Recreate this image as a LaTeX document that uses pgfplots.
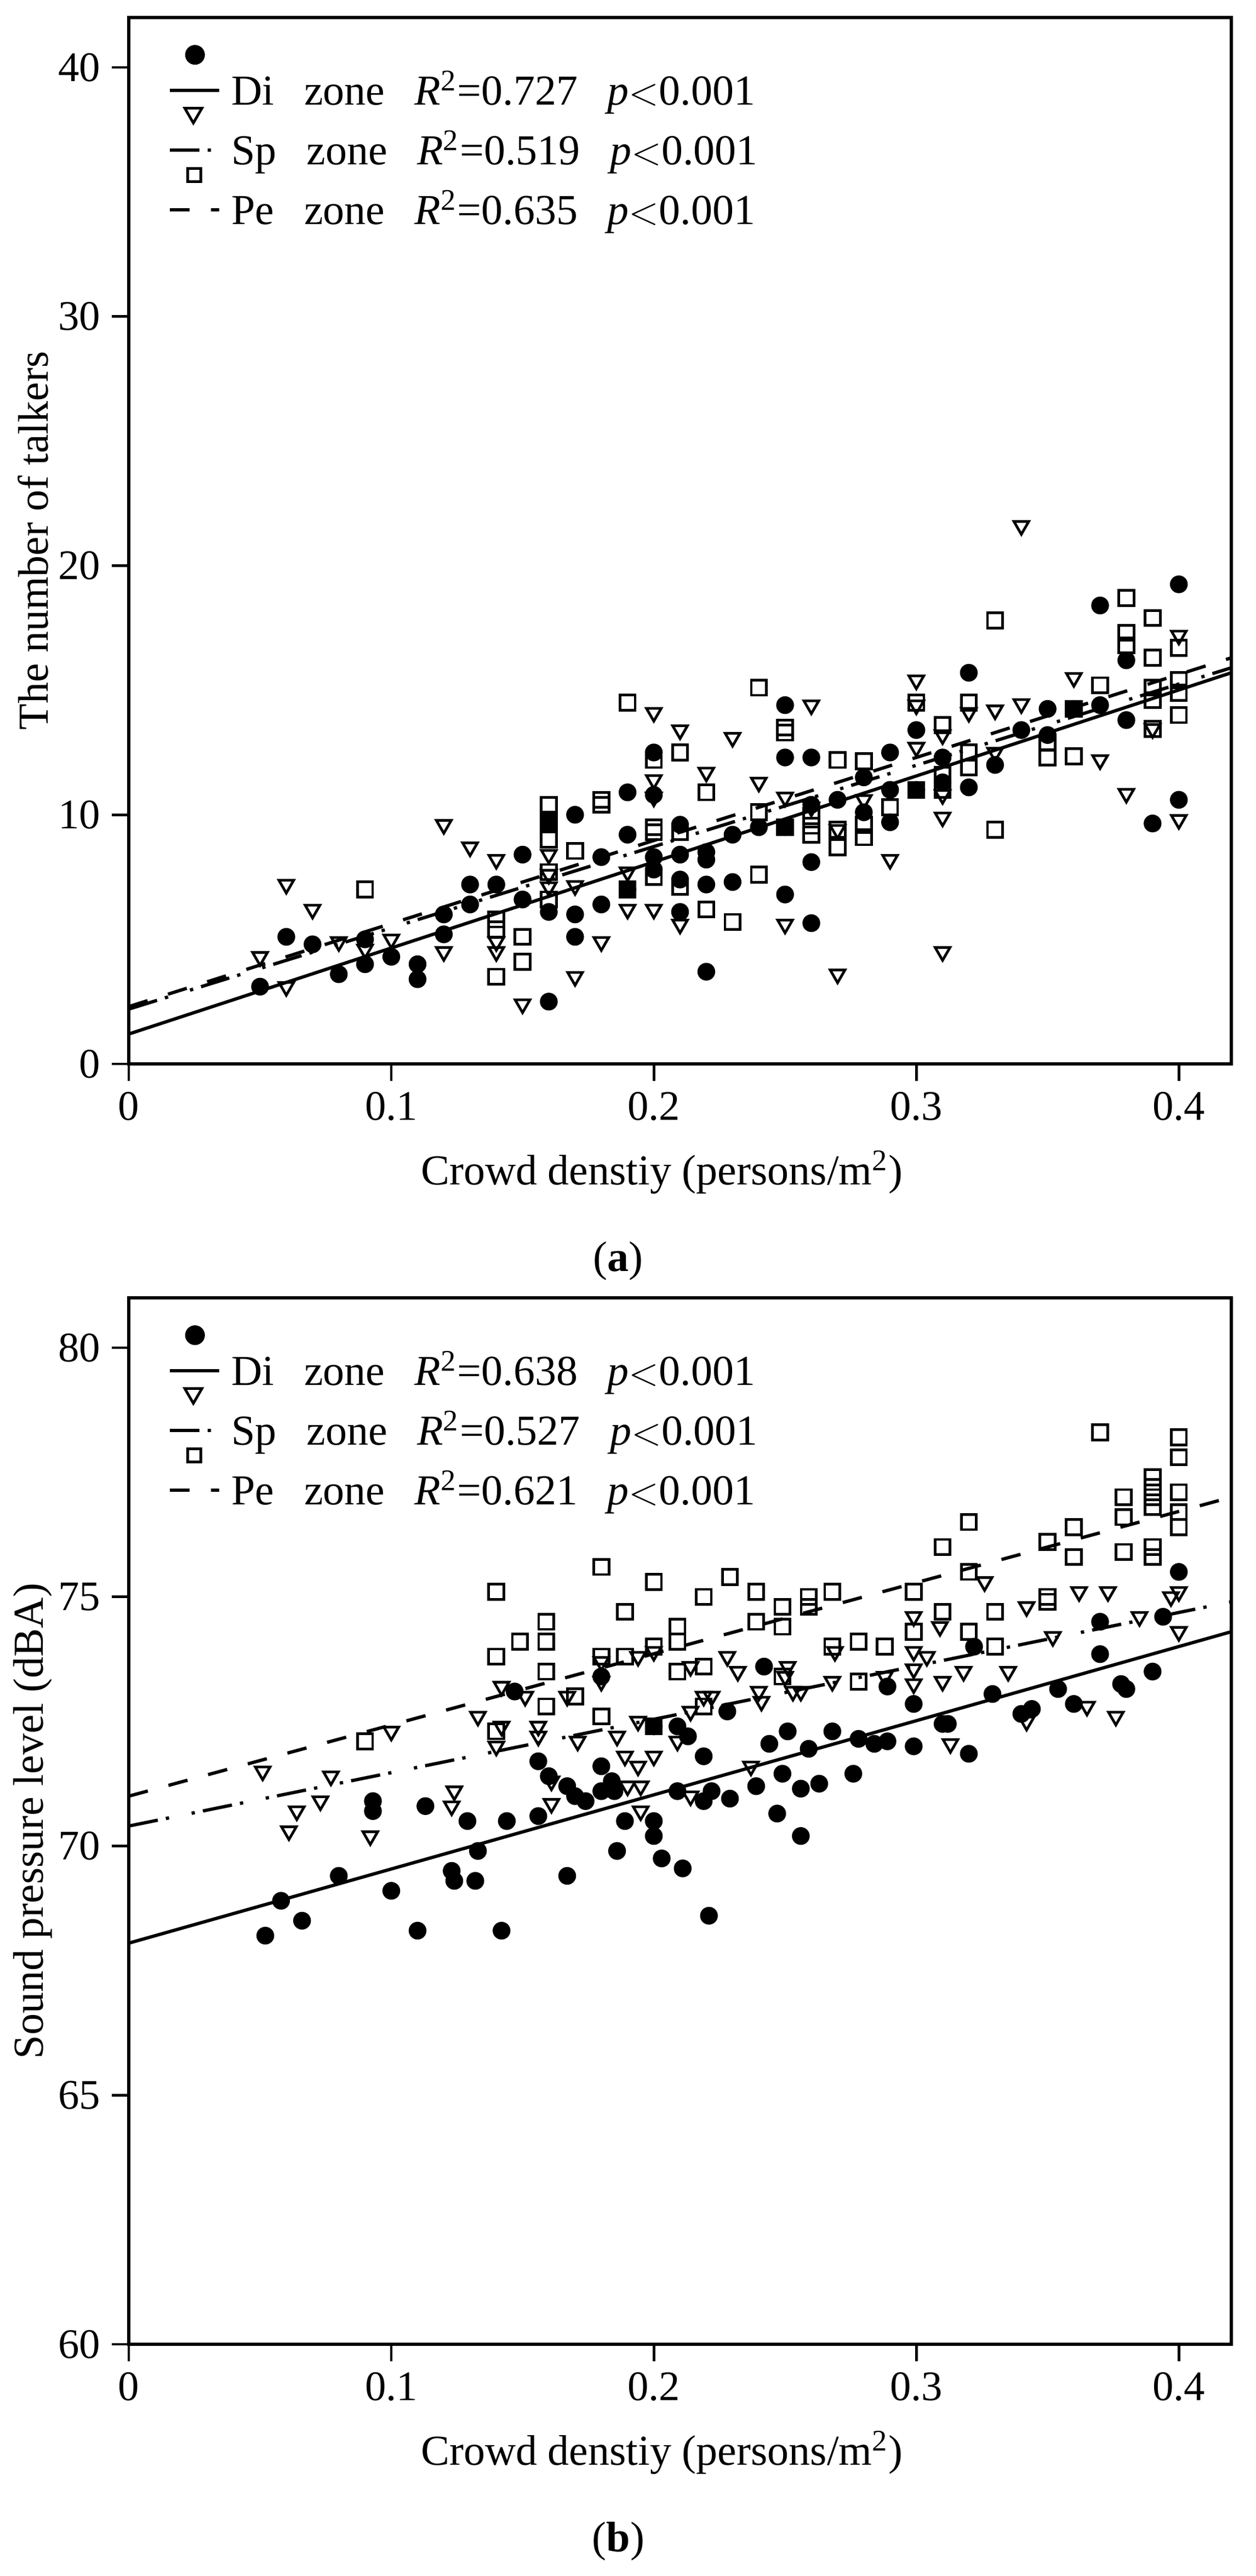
\documentclass[border=0pt]{standalone}
\usepackage{fontspec}
\setmainfont{Liberation Serif}
\usepackage{pgfplots}
\pgfplotsset{compat=1.18}

\pgfplotsset{
  myaxis/.style={
    scale only axis, width=335.33pt, height=318.33pt,
    xmin=0, xmax=0.42,
    axis line style={line width=0.9pt},
    every tick/.style={line width=0.8pt, black},
    major tick length=5.1pt,
    tick align=outside, xtick pos=left, ytick pos=left,
    xtick={0,0.1,0.2,0.3,0.4},
    /pgf/number format/assume math mode=true,
    /pgf/number format/fixed,
    tick label style={font=\fontsize{12.8}{14}\selectfont},
    label style={font=\fontsize{13}{15}\selectfont},
    xlabel={Crowd denstiy (persons/m\textsuperscript{2})},
    xlabel style={at={(axis description cs:0.4836,-0.1037)}, anchor=center},
    ylabel style={at={(axis description cs:-0.087,0.5)}, anchor=center},
    legend style={draw=none, fill=none, at={(axis description cs:0.035,0.975)}, anchor=north west,
      font=\fontsize{13}{15}\selectfont, inner sep=0pt, row sep=-1.8pt,
      nodes={inner sep=0pt},
      /tikz/every odd column/.append style={column sep=3.3pt}},
    legend cell align=left,
  },
  dimark/.style={only marks, mark=*, mark size=2.5pt, black, forget plot},
  spmark/.style={only marks, mark=triangle, mark size=2.6pt, black, mark options={rotate=180, line width=0.8pt, fill=white}, forget plot},
  pemark/.style={only marks, mark=square, mark size=2.3pt, black, mark options={line width=0.8pt, fill=white}, forget plot},
  diline/.style={black, line width=1pt, forget plot},
  spline/.style={black, line width=1pt, dash pattern=on 9pt off 2.5pt on 1pt off 7pt on 1pt off 2.5pt, forget plot},
  peline/.style={black, line width=1pt, dash pattern=on 6pt off 6.5pt, forget plot},
  dileg/.style={legend image code/.code={
      \path[draw=none, fill=none] (0pt,-3pt) rectangle (15pt,14pt);
      \draw[line width=1pt, solid] (0pt,0pt) -- (15pt,0pt);
      \fill (7.7pt,10.8pt) circle (2.8pt);}},
  spleg/.style={legend image code/.code={
      \path[draw=none, fill=none] (0pt,-3pt) rectangle (15pt,14pt);
      \draw[line width=1pt, solid] (0pt,0pt) -- (9pt,0pt);
      \draw[line width=1pt, solid] (11.5pt,0pt) -- (12.6pt,0pt);
      \draw[line width=0.8pt, solid] (7.2pt,8.2pt) -- (9.8pt,12.7pt) -- (4.6pt,12.7pt) -- cycle;}},
  peleg/.style={legend image code/.code={
      \path[draw=none, fill=none] (0pt,-3pt) rectangle (15pt,14pt);
      \draw[line width=1pt, solid] (0pt,0pt) -- (6pt,0pt);
      \draw[line width=1pt, solid] (12.5pt,0pt) -- (15pt,0pt);
      \draw[line width=0.8pt, solid] (5.5pt,8.5pt) rectangle (9.5pt,12.5pt);}},
}

\newcommand{\gap}{\hspace{0.7em}}
\newcommand{\lt}{\ensuremath{<}}

\begin{document}
\begin{tikzpicture}
\useasboundingbox (0pt,0pt) rectangle (382pt,-783.67pt);

% ---------------- (a) ----------------
\begin{axis}[myaxis,
  at={(39.17pt,-5.33pt)}, anchor=north west,
  ymin=0, ymax=42, ytick={0,10,20,30,40},
  ylabel={The number of talkers},
  after end axis/.code={\node[font=\fontsize{13}{15}\selectfont] at (axis description cs:0.444,-0.1885) {(\textbf{a})};},
]
\addlegendimage{dileg}
\addlegendentry{Di\gap zone\gap\textit{R}\textsuperscript{2}=0.727\gap\textit{p}\lt0.001}
\addlegendimage{spleg}
\addlegendentry{Sp\gap zone\gap\textit{R}\textsuperscript{2}=0.519\gap\textit{p}\lt0.001}
\addlegendimage{peleg}
\addlegendentry{Pe\gap zone\gap\textit{R}\textsuperscript{2}=0.635\gap\textit{p}\lt0.001}

\addplot[diline] coordinates {(0,1.2) (0.42,15.7)};
\addplot[spline] coordinates {(0,2.2) (0.42,15.9)};
\addplot[peline] coordinates {(0,2.3) (0.42,16.3)};

% Pe zone
\addplot[pemark] coordinates {
(0.09,7.0)(0.14,5.8)(0.14,5.4)(0.14,3.5)(0.15,5.1)(0.15,4.1)
(0.16,10.4)(0.16,9.7)(0.16,9.0)(0.16,7.7)(0.16,6.6)(0.17,8.55)
(0.18,10.6)(0.18,10.4)(0.19,14.5)(0.19,7.0)(0.20,12.2)(0.20,9.5)(0.20,9.3)(0.20,7.5)
(0.21,12.5)(0.21,9.3)(0.21,7.1)(0.22,10.9)(0.22,6.2)(0.23,5.7)
(0.24,15.1)(0.24,10.1)(0.24,7.6)(0.25,13.5)(0.25,13.3)(0.25,9.5)
(0.26,9.95)(0.26,9.56)(0.26,9.2)(0.27,12.2)(0.27,9.4)(0.27,8.7)
(0.28,12.15)(0.28,9.6)(0.28,9.1)(0.29,10.3)(0.30,14.5)(0.30,11.0)
(0.31,13.6)(0.31,11.6)(0.31,11.0)(0.32,14.5)(0.32,12.5)(0.32,11.9)
(0.33,17.8)(0.33,9.4)(0.35,12.9)(0.35,12.3)(0.36,14.25)(0.36,12.35)(0.37,15.2)
(0.38,18.7)(0.38,17.3)(0.38,16.8)(0.39,17.9)(0.39,16.3)(0.39,15.1)(0.39,14.6)(0.39,13.45)
(0.40,16.7)(0.40,15.4)(0.40,14.9)(0.40,14.0)
};
% Sp zone
\addplot[spmark] coordinates {
(0.05,4.3)(0.06,7.2)(0.06,3.1)(0.07,6.2)(0.08,4.9)(0.09,4.6)(0.10,5.0)
(0.12,9.6)(0.12,4.5)(0.13,8.7)(0.14,8.2)(0.14,4.9)(0.14,4.5)(0.15,2.4)
(0.16,8.4)(0.16,7.6)(0.16,7.1)(0.17,7.15)(0.17,3.5)(0.18,4.9)(0.19,7.7)(0.19,6.2)
(0.20,14.1)(0.20,11.4)(0.20,10.7)(0.20,6.2)(0.21,13.4)(0.21,5.6)(0.22,11.7)(0.23,13.1)
(0.24,11.3)(0.25,10.7)(0.25,5.6)(0.26,14.4)(0.26,10.3)(0.27,9.4)(0.27,3.6)(0.28,10.6)(0.29,8.2)
(0.30,15.4)(0.30,14.4)(0.30,12.7)(0.31,13.2)(0.31,10.8)(0.31,9.9)(0.31,4.5)(0.32,14.1)
(0.33,14.2)(0.33,12.5)(0.34,21.6)(0.34,14.45)(0.36,15.5)(0.37,12.2)(0.38,10.85)(0.39,13.45)
(0.40,17.2)(0.40,9.8)
};
% Di zone
\addplot[dimark] coordinates {
(0.05,3.1)(0.06,5.1)(0.07,4.8)(0.08,3.6)(0.09,5.0)(0.09,4.0)(0.10,4.3)(0.11,4.0)(0.11,3.4)
(0.12,6.0)(0.12,5.2)(0.13,7.2)(0.13,6.4)(0.14,7.2)(0.15,8.4)(0.15,6.6)
(0.16,9.7)(0.16,6.1)(0.16,2.5)(0.17,10.0)(0.17,6.0)(0.17,5.1)(0.18,8.3)(0.18,6.4)
(0.19,10.9)(0.19,9.2)(0.19,7.0)(0.20,12.5)(0.20,10.8)(0.20,8.3)(0.20,7.8)
(0.21,9.6)(0.21,8.4)(0.21,7.4)(0.21,6.1)(0.22,8.5)(0.22,8.2)(0.22,7.2)(0.22,3.7)
(0.23,9.2)(0.23,7.3)(0.24,9.5)(0.25,14.4)(0.25,12.3)(0.25,9.5)(0.25,6.8)
(0.26,12.3)(0.26,10.4)(0.26,8.1)(0.26,5.65)(0.27,10.6)(0.28,11.5)(0.28,10.1)
(0.29,12.5)(0.29,11.0)(0.29,9.7)(0.30,13.4)(0.30,11.0)(0.31,12.3)(0.31,11.3)
(0.32,15.7)(0.32,11.1)(0.33,12.0)(0.34,13.4)(0.35,14.25)(0.35,13.2)(0.36,14.25)
(0.37,18.4)(0.37,14.4)(0.38,16.2)(0.38,13.8)(0.39,9.65)(0.40,19.25)(0.40,10.6)
};
\end{axis}

% ---------------- (b) ----------------
\begin{axis}[myaxis,
  at={(39.17pt,-394.83pt)}, anchor=north west,
  ymin=60, ymax=81, ytick={60,65,70,75,80},
  ylabel={Sound pressure level (dBA)},
  after end axis/.code={\node[font=\fontsize{13}{15}\selectfont] at (axis description cs:0.444,-0.1885) {(\textbf{b})};},
]
\addlegendimage{dileg}
\addlegendentry{Di\gap zone\gap\textit{R}\textsuperscript{2}=0.638\gap\textit{p}\lt0.001}
\addlegendimage{spleg}
\addlegendentry{Sp\gap zone\gap\textit{R}\textsuperscript{2}=0.527\gap\textit{p}\lt0.001}
\addlegendimage{peleg}
\addlegendentry{Pe\gap zone\gap\textit{R}\textsuperscript{2}=0.621\gap\textit{p}\lt0.001}

\addplot[diline] coordinates {(0,68.05) (0.42,74.3)};
\addplot[spline] coordinates {(0,70.4) (0.42,74.9)};
\addplot[peline] coordinates {(0,71.0) (0.42,77.0)};

% Pe zone
\addplot[pemark] coordinates {
(0.090,72.1)(0.140,75.1)(0.140,73.8)(0.140,72.3)(0.149,74.1)
(0.159,74.5)(0.159,74.1)(0.159,73.5)(0.159,72.8)
(0.180,75.6)(0.180,73.8)(0.180,72.6)(0.170,73.0)(0.189,74.7)(0.189,73.8)
(0.200,75.3)(0.200,74.0)(0.200,72.4)(0.209,74.4)(0.209,74.1)(0.209,73.5)
(0.219,75.0)(0.219,73.6)(0.219,72.8)(0.229,75.4)(0.239,75.1)(0.239,74.5)
(0.249,74.8)(0.249,74.4)(0.249,73.4)(0.259,75.0)(0.259,74.8)(0.268,75.1)(0.268,74.0)
(0.278,74.1)(0.278,73.3)(0.288,74.0)
(0.299,75.1)(0.299,74.3)(0.310,76.0)(0.310,74.7)(0.320,76.5)(0.320,75.5)(0.320,74.3)
(0.330,74.7)(0.330,74.0)(0.350,76.1)(0.350,75.0)(0.350,74.9)(0.360,76.4)(0.360,75.8)
(0.370,78.3)(0.379,77.0)(0.379,76.6)(0.379,75.9)
(0.390,77.4)(0.390,77.2)(0.390,77.0)(0.390,76.8)(0.390,76.0)(0.390,75.8)
(0.400,78.2)(0.400,77.8)(0.400,77.1)(0.400,76.7)(0.400,76.4)
};
% Sp zone
\addplot[spmark] coordinates {
(0.051,71.5)(0.061,70.3)(0.064,70.7)(0.073,70.9)(0.077,71.4)(0.092,70.2)(0.100,72.3)
(0.123,70.8)(0.124,71.1)(0.133,72.6)(0.140,72.0)(0.142,72.4)(0.142,73.2)(0.151,73.0)
(0.156,72.4)(0.156,72.2)(0.161,71.3)(0.161,70.85)
(0.167,73.0)(0.171,72.1)(0.180,73.7)(0.180,73.3)(0.186,72.2)(0.189,71.8)(0.190,71.2)
(0.194,73.8)(0.194,71.6)(0.195,71.2)(0.195,70.7)(0.200,71.8)(0.194,72.5)(0.200,73.9)
(0.209,72.1)(0.214,73.6)(0.214,72.7)(0.214,71.0)(0.219,73.0)(0.222,73.0)(0.228,73.8)
(0.232,73.5)(0.237,71.6)(0.240,73.1)(0.241,72.9)(0.251,73.6)(0.250,73.4)(0.253,73.1)
(0.256,73.1)(0.268,73.3)(0.269,73.9)(0.288,73.4)
(0.299,74.6)(0.299,73.9)(0.299,73.55)(0.299,73.25)(0.304,73.8)(0.309,74.4)(0.310,73.3)
(0.313,72.05)(0.318,73.5)(0.326,75.3)(0.335,73.5)(0.342,74.8)(0.342,72.5)(0.352,74.2)
(0.362,75.1)(0.365,72.8)(0.373,75.1)(0.376,72.6)(0.385,74.6)(0.397,75.0)(0.400,75.1)(0.400,74.3)
};
% Di zone
\addplot[dimark] coordinates {
(0.052,68.2)(0.058,68.9)(0.066,68.5)(0.080,69.4)(0.093,70.9)(0.093,70.7)(0.100,69.1)
(0.110,68.3)(0.113,70.8)(0.123,69.5)(0.124,69.3)(0.129,70.5)(0.133,69.9)(0.132,69.3)
(0.142,68.3)(0.144,70.5)(0.147,73.1)(0.156,70.6)(0.156,71.7)(0.160,71.4)
(0.167,71.2)(0.170,71.0)(0.174,70.9)(0.167,69.4)(0.180,71.6)(0.180,73.4)(0.180,71.1)
(0.184,71.3)(0.185,71.1)(0.186,69.9)(0.189,70.5)(0.200,70.5)(0.200,70.2)(0.203,69.75)
(0.200,72.4)(0.209,72.4)(0.213,72.2)(0.211,69.55)(0.209,71.1)(0.219,71.8)(0.219,70.9)
(0.222,71.1)(0.221,68.6)(0.229,70.95)(0.228,72.7)(0.239,71.2)(0.242,73.6)(0.244,72.05)
(0.247,70.65)(0.249,71.45)(0.251,72.3)(0.256,71.15)(0.256,70.2)(0.259,71.95)(0.263,71.25)
(0.268,72.3)(0.276,71.45)(0.278,72.15)(0.284,72.05)(0.289,72.1)(0.289,73.2)
(0.299,72.85)(0.299,72.0)(0.310,72.45)(0.312,72.45)(0.320,71.85)(0.322,74.0)(0.329,73.05)
(0.340,72.65)(0.344,72.75)(0.354,73.15)(0.360,72.85)(0.370,74.5)(0.370,73.85)
(0.378,73.25)(0.380,73.15)(0.390,73.5)(0.394,74.6)(0.400,75.5)
};
\end{axis}
\end{tikzpicture}
\end{document}
